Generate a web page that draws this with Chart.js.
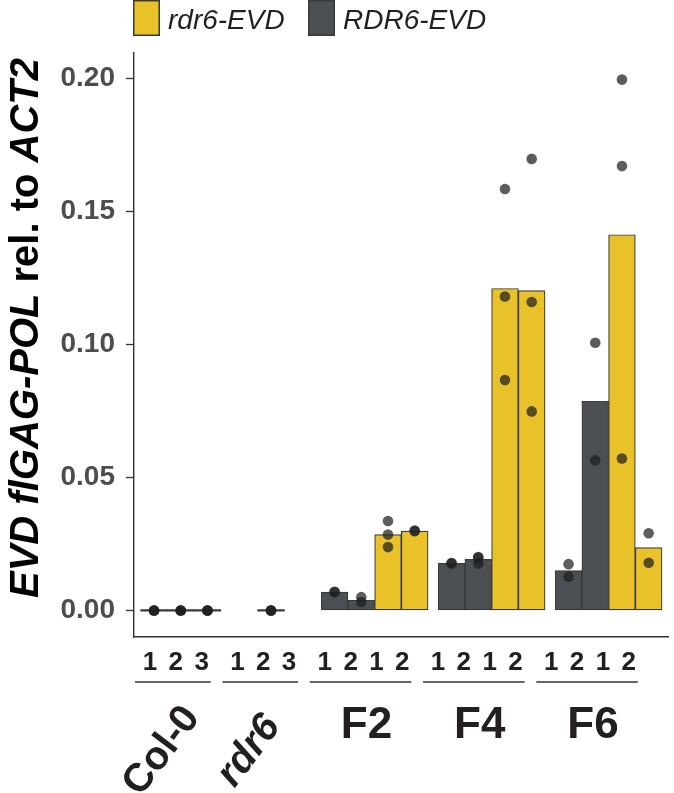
<!DOCTYPE html>
<html>
<head>
<meta charset="utf-8">
<script src="https://cdn.jsdelivr.net/npm/chart.js@4.4.1/dist/chart.umd.min.js"></script>
<style>
  html, body { margin: 0; padding: 0; background: #fff; }
  #wrap { position: relative; width: 674px; height: 793px; }
</style>
</head>
<body>
<div id="wrap"><canvas id="evdChart"></canvas></div>
<script>
// Number printed under each column
const slotLabels = ['1', '2', '3', '1', '2', '3', '1', '2', '1', '2', '1', '2', '1', '2', '1', '2', '1', '2'];
// Groups of columns and how many columns each one has
const groupNames = ['Col-0', 'rdr6', 'F2', 'F4', 'F6'];
const groupSizes = [3, 3, 4, 4, 4];
// Genotype shown in each column ('ctrl' = only a flat line at zero, 'none' = empty)
const slotGenotype = ['ctrl', 'ctrl', 'ctrl', 'none', 'ctrl', 'none',
  'RDR6', 'RDR6', 'rdr6', 'rdr6',
  'RDR6', 'RDR6', 'rdr6', 'rdr6',
  'RDR6', 'RDR6', 'rdr6', 'rdr6'];
// Bar height (mean) for each column
const barMeans = [0, 0, 0, null, 0, null,
  0.0069, 0.0038, 0.0285, 0.0298,
  0.0177, 0.0192, 0.1210, 0.1202,
  0.0150, 0.0786, 0.1412, 0.0236];
// Single replicate values (the dots) for each column
const replicates = [
  [0, 0, 0], [0, 0, 0], [0, 0, 0],
  [], [0, 0, 0], [],
  [0.0069, 0.0070], [0.0050, 0.0032], [0.0336, 0.0285, 0.0238], [0.0298, 0.0300],
  [0.0177, 0.0178], [0.0201, 0.0199, 0.0176], [0.1584, 0.1180, 0.0866], [0.1697, 0.1159, 0.0748],
  [0.0174, 0.0127], [0.1006, 0.0564], [0.1995, 0.1670, 0.0571], [0.0290, 0.0179]
];
const yTicks = [0, 0.05, 0.10, 0.15, 0.20];

const yellow = '#E9C229';
const grey = '#4B4E52';
const outline = '#3a3a3a';

// column positions on a linear x axis: one unit per column, small gap between groups
const groupGap = 0.38;
const slotX = [];
groupSizes.forEach((n, gi) => {
  for (let k = 0; k < n; k++) slotX.push(slotX.length + gi * groupGap);
});

function barsFor(genotype) {
  const out = [];
  slotGenotype.forEach((g, i) => {
    if (g === genotype) out.push({ x: slotX[i], y: barMeans[i] });
  });
  return out;
}

const dots = [];
replicates.forEach((vals, i) => vals.forEach(v => dots.push({ x: slotX[i], y: v })));

Chart.defaults.font.family = "'Liberation Sans', Arial, sans-serif";

// Draws the legend, the y title (mixed italic) and the grouped x labels
const annotate = {
  id: 'annotate',
  afterDraw(chart) {
    const ctx = chart.ctx;
    const xs = chart.scales.x;
    const area = chart.chartArea;

    ctx.save();
    // legend
    const legendItems = [
      { label: chart.data.datasets[1].label, color: yellow, x: 133 },
      { label: chart.data.datasets[2].label, color: grey, x: 308 }
    ];
    ctx.font = 'italic 28px "Liberation Sans"';
    ctx.textBaseline = 'alphabetic';
    ctx.textAlign = 'left';
    legendItems.forEach(item => {
      ctx.fillStyle = item.color;
      ctx.fillRect(item.x, 0, 27, 36);
      ctx.strokeStyle = outline;
      ctx.lineWidth = 1.5;
      ctx.strokeRect(item.x + 0.75, 0.75, 25.5, 34.5);
      ctx.fillStyle = '#231f20';
      ctx.fillText(item.label, item.x + 35, 29);
    });

    // y axis title with italic gene names
    const parts = [
      ['EVD flGAG-POL', 'italic bold 40px "Liberation Sans"'],
      [' rel. to ', 'bold 40px "Liberation Sans"'],
      ['ACT2', 'italic bold 40px "Liberation Sans"']
    ];
    let total = 0;
    parts.forEach(p => { ctx.font = p[1]; total += ctx.measureText(p[0]).width; });
    ctx.translate(38, 328);
    ctx.rotate(-Math.PI / 2);
    let cx = -total / 2;
    ctx.fillStyle = '#000';
    parts.forEach(p => {
      ctx.font = p[1];
      ctx.fillText(p[0], cx, 0);
      cx += ctx.measureText(p[0]).width;
    });
    ctx.setTransform(1, 0, 0, 1, 0, 0);

    // the labels under the axis are set slightly tighter than the bars
    const shrink = 0.968, nudge = -5.4;
    const labelX = v => area.left + (xs.getPixelForValue(v) - area.left) * shrink + nudge;

    ctx.fillStyle = '#231f20';
    ctx.textAlign = 'center';
    ctx.font = 'bold 26px "Liberation Sans"';
    slotLabels.forEach((lab, i) => ctx.fillText(lab, labelX(slotX[i]) + 2, 670));

    let start = 0;
    groupNames.forEach((name, gi) => {
      const first = slotX[start];
      const last = slotX[start + groupSizes[gi] - 1];
      const x0 = labelX(first - 0.5);
      const x1 = labelX(last + 0.5) - 2;
      ctx.strokeStyle = '#333';
      ctx.lineWidth = 1.3;
      ctx.beginPath();
      ctx.moveTo(x0, 682);
      ctx.lineTo(x1, 682);
      ctx.stroke();
      const mid = (x0 + x1) / 2;
      ctx.fillStyle = '#231f20';
      if (gi < 2) {
        ctx.save();
        ctx.font = (gi === 1 ? 'italic ' : '') + 'bold 40px "Liberation Sans"';
        ctx.translate(mid - 11, 751);
        ctx.rotate(-53 * Math.PI / 180);
        ctx.textAlign = 'center';
        ctx.textBaseline = 'middle';
        ctx.fillText(name, 0, 0);
        ctx.restore();
      } else {
        ctx.font = 'bold 44px "Liberation Sans"';
        ctx.textAlign = 'center';
        ctx.fillText(name, mid + 6, 738);
      }
      start += groupSizes[gi];
    });
    ctx.restore();
  }
};

const barStyle = {
  type: 'bar',
  grouped: false,
  barPercentage: 1,
  categoryPercentage: 1,
  borderColor: outline,
  borderWidth: 1.2,
  borderSkipped: false,
  order: 1
};

new Chart(document.getElementById('evdChart'), {
  type: 'bar',
  data: {
    datasets: [
      {
        type: 'scatter',
        label: 'replicates',
        data: dots,
        backgroundColor: 'rgba(30,30,30,0.72)',
        borderWidth: 0,
        pointRadius: 5.3,
        order: 0
      },
      Object.assign({}, barStyle, { label: 'rdr6-EVD', data: barsFor('rdr6'), backgroundColor: yellow }),
      Object.assign({}, barStyle, { label: 'RDR6-EVD', data: barsFor('RDR6'), backgroundColor: grey }),
      Object.assign({}, barStyle, {
        label: 'controls', data: barsFor('ctrl'), backgroundColor: outline,
        borderWidth: 0, minBarLength: 1.6
      })
    ]
  },
  options: {
    responsive: true,
    maintainAspectRatio: false,
    animation: false,
    layout: { padding: { top: 53, right: 4, left: 0, bottom: 0 } },
    plugins: { legend: { display: false }, tooltip: { enabled: false } },
    scales: {
      x: {
        type: 'linear',
        offset: false,
        min: slotX[0] - 0.75,
        max: slotX[slotX.length - 1] + 0.75,
        afterBuildTicks: s => { s.ticks = slotX.map(v => ({ value: v })); },
        afterFit: s => { s.height = 156; },
        ticks: { display: false },
        grid: { display: false, drawTicks: false, offset: false },
        border: { display: true, color: '#333', width: 1.4 }
      },
      y: {
        min: -0.00998,
        max: 0.2095,
        afterBuildTicks: s => { s.ticks = yTicks.map(v => ({ value: v })); },
        afterFit: s => { s.width = 134; },
        ticks: {
          callback: v => v.toFixed(2),
          color: '#4d4d4d',
          font: { size: 28, weight: 'bold' },
          padding: 11
        },
        grid: { drawOnChartArea: false, tickLength: 8, color: '#333', tickWidth: 1.3 },
        border: { display: true, color: '#333', width: 1.4 }
      }
    }
  },
  plugins: [annotate]
});
</script>
</body>
</html>
